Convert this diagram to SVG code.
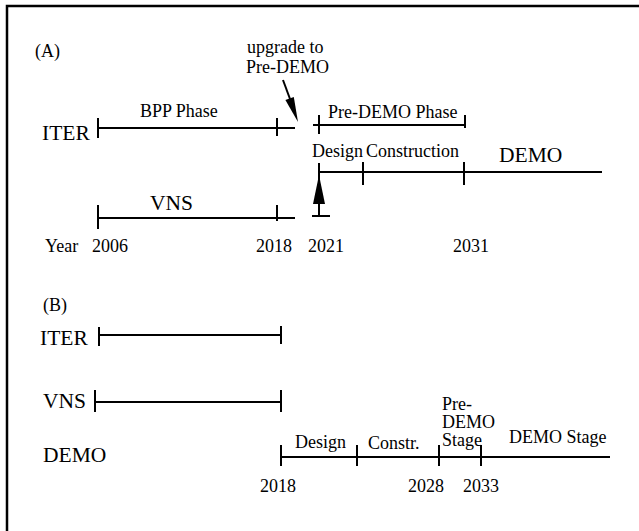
<svg xmlns="http://www.w3.org/2000/svg" width="639" height="531" viewBox="0 0 639 531" font-family="'Liberation Serif', 'Times New Roman', serif">
<style>
text{font-family:'Liberation Serif','Times New Roman',serif;fill:#000;font-size:18px}
.big{font-size:21.5px}
.ln{stroke:#000;stroke-width:2;fill:none}
.frame{stroke:#000;stroke-width:2.5;fill:none}
.head{fill:#000}
</style>
<rect width="639" height="531" fill="#fff"/>
<path class="frame" d="M640,6 L7,6 L7,532"/>

<g id="panelA">
<text id="labelA" x="35" y="57">(A)</text>
<g id="upgrade-note">
<text x="247" y="53" font-size="19.2">upgrade to</text>
<text x="246" y="73" font-size="20">Pre-DEMO</text>
</g>
<g id="iterA">
<text class="big" x="42" y="140" font-size="21">ITER</text>
</g>
<g id="bppPhase">
<text x="140" y="117" font-size="18.5">BPP Phase</text>
<path class="ln" d="M98,128 H295 M98,118 V138 M277,118 V136"/>
</g>
<g id="preDemoPhase">
<text x="328" y="118" font-size="18.6">Pre-DEMO Phase</text>
<path class="ln" d="M313,125 H465 M319,115 V134 M465,115 V128"/>
</g>
<g id="demoA">
<text x="312" y="157" font-size="13.8">Design</text>
<text x="366" y="157" font-size="20">Construction</text>
<text class="big" x="499" y="162">DEMO</text>
<path class="ln" d="M319,172 H602 M319,163 V216 M312,216 H330 M363,162 V185 M464,162 V185"/>
<path class="head" d="M319,175 L325,204 L313,204 Z"/>
</g>
<g id="vnsA">
<text class="big" x="150" y="210">VNS</text>
<path class="ln" d="M98,218 H295 M98,205 V229 M277,205 V221"/>
</g>
<g id="yearsA">
<text x="45" y="252">Year</text>
<text x="92" y="252">2006</text>
<text x="256" y="252">2018</text>
<text x="308" y="252">2021</text>
<text x="453" y="252">2031</text>
</g>
</g>

<g id="connectors">
<line class="ln" x1="283" y1="80" x2="290" y2="99"/>
<path class="head" d="M298,122 L293.8,97 L285.4,100 Z"/>
</g>

<g id="panelB">
<text id="labelB" x="43" y="311">(B)</text>
<g id="iterB">
<text class="big" x="40" y="345">ITER</text>
<path class="ln" d="M99,335 H281 M99,327 V346 M281,326 V344"/>
</g>
<g id="vnsB">
<text class="big" x="43" y="408">VNS</text>
<path class="ln" d="M95,402 H281 M95,390 V412 M281,390 V412"/>
</g>
<g id="demoB">
<text class="big" x="43" y="462" font-size="20.7">DEMO</text>
<path class="ln" d="M281,457 H610 M281,445 V466 M357,445 V466 M439,445 V466 M481,445 V466"/>
<text x="295" y="448" font-size="17.6">Design</text>
<text x="368" y="449" font-size="18.5">Constr.</text>
<text x="442" y="410" font-size="14.5">Pre-</text>
<text x="442" y="428" font-size="14.5">DEMO</text>
<text x="442" y="446" font-size="14.5">Stage</text>
<text x="509" y="443" font-size="17.7">DEMO Stage</text>
</g>
<g id="yearsB">
<text x="260" y="492" font-size="18.5">2018</text>
<text x="408" y="492" font-size="18">2028</text>
<text x="463" y="492" font-size="18">2033</text>
</g>
</g>
</svg>
